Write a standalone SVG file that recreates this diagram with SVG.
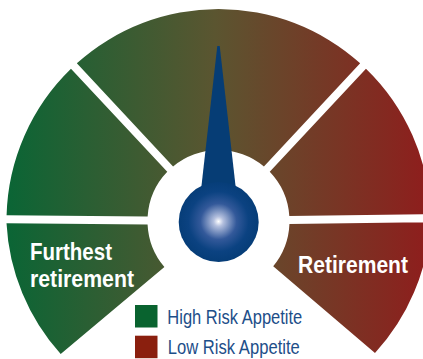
<svg xmlns="http://www.w3.org/2000/svg" width="423" height="359" viewBox="0 0 423 359">
  <defs>
    <linearGradient id="band" gradientUnits="userSpaceOnUse" x1="8" y1="0" x2="423" y2="0">
      <stop offset="0" stop-color="#0b6535"/>
      <stop offset="0.5" stop-color="#5b5530"/>
      <stop offset="1" stop-color="#8d1f1d"/>
    </linearGradient>
    <radialGradient id="knob" cx="218.5" cy="221.5" r="40" gradientUnits="userSpaceOnUse">
      <stop offset="0" stop-color="#ffffff"/>
      <stop offset="0.12" stop-color="#b4c0de"/>
      <stop offset="0.45" stop-color="#33599a"/>
      <stop offset="0.75" stop-color="#0b4281"/>
      <stop offset="1" stop-color="#063d78"/>
    </radialGradient>
    <style>
      .seg { fill: url(#band); }
      .lbl { font-family: "Liberation Sans", Arial, sans-serif; font-weight: bold; font-size: 24px; fill: #ffffff; }
      .leg { font-family: "Liberation Sans", Arial, sans-serif; font-size: 20px; fill: #1d4e89; }
    </style>
  </defs>
  <rect width="423" height="359" fill="#ffffff"/>
  <g id="segments">
    <g id="seg-bottom-left">
      <path class="seg" d="M164.4,267 L60.7,354 A212,212 0 0 1 6.51,223.15 L147.58,224.38 A71,71 0 0 0 164.4,267 Z"/>
      <text class="lbl" x="30" y="260" textLength="82" lengthAdjust="spacingAndGlyphs">Furthest</text>
      <text class="lbl" x="30" y="287" textLength="104" lengthAdjust="spacingAndGlyphs">retirement</text>
    </g>
    <g id="seg-left">
      <path class="seg" d="M147.65,216.38 L6.58,215.15 A212,212 0 0 1 70.98,68.75 L167.26,171.86 A71,71 0 0 0 147.65,216.38 Z"/>
    </g>
    <g id="seg-top">
      <path class="seg" d="M173.09,166.42 L76.83,63.29 A212,212 0 0 1 360.17,63.29 L263.91,166.42 A71,71 0 0 0 173.09,166.42 Z"/>
    </g>
    <g id="seg-right">
      <path class="seg" d="M269.74,171.86 L365.98,68.7 A212,212 0 0 1 430.39,214.05 L289.32,216.01 A71,71 0 0 0 269.74,171.86 Z"/>
    </g>
    <g id="seg-bottom-right">
      <path class="seg" d="M289.44,224.01 L430.5,222.04 A212,212 0 0 1 375,353 L273.21,266.26 A71,71 0 0 0 289.44,224.01 Z"/>
      <text class="lbl" x="298" y="273" textLength="110" lengthAdjust="spacingAndGlyphs">Retirement</text>
    </g>
  </g>
  <g id="needle">
    <polygon points="217.3,46 219.7,46 236,190 201,190" fill="#063d75"/>
    <circle cx="218.7" cy="222" r="40" fill="url(#knob)"/>
  </g>
  <g id="legend">
    <rect x="135" y="305" width="22.5" height="22.5" fill="#09632f"/>
    <text class="leg" x="167.3" y="323.5" textLength="135" lengthAdjust="spacingAndGlyphs">High Risk Appetite</text>
    <rect x="135" y="335.7" width="22.5" height="22.5" fill="#8a1f0e"/>
    <text class="leg" x="167.8" y="353.5" textLength="132" lengthAdjust="spacingAndGlyphs">Low Risk Appetite</text>
  </g>
</svg>
